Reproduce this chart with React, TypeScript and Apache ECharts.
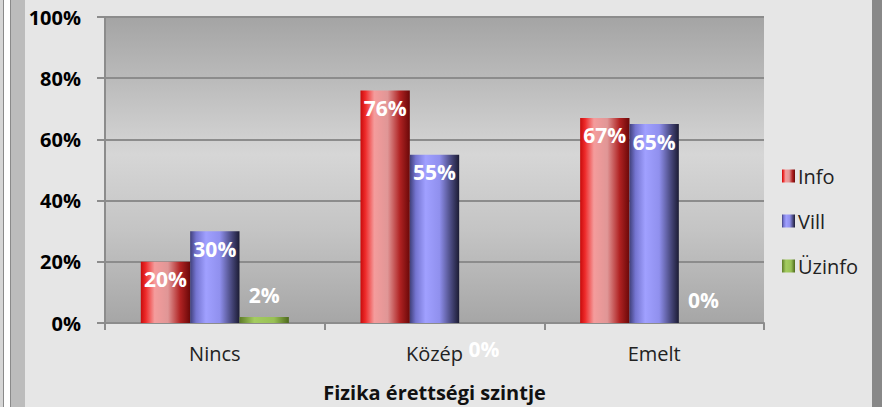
import React, { useEffect, useRef } from "react";
import * as echarts from "echarts";

const categories = ["Nincs", "Közép", "Emelt"];
const seriesNames = ["Info", "Vill", "Üzinfo"];
const infoValues = [20, 76, 67];
const villValues = [30, 55, 65];
const uzinfoValues = [2, 0, 0];
const yTicks = [0, 20, 40, 60, 80, 100];
const xAxisTitle = "Fizika érettségi szintje";

const FONT = "'Open Sans', 'Noto Sans', sans-serif";

function grad(stops: [number, string][]) {
  return new echarts.graphic.LinearGradient(
    0, 0, 1, 0,
    stops.map(([offset, color]) => ({ offset, color }))
  );
}

const redGrad = () =>
  grad([
    [0, "#c80c0c"],
    [0.1, "#ee2a2a"],
    [0.28, "#f49c9c"],
    [0.55, "#e09696"],
    [0.8, "#b02222"],
    [1, "#6a0808"],
  ]);
const blueGrad = () =>
  grad([
    [0, "#40407a"],
    [0.12, "#7474d0"],
    [0.32, "#a0a0ff"],
    [0.6, "#9090ee"],
    [0.85, "#454578"],
    [1, "#1c1c34"],
  ]);
const greenGrad = () =>
  grad([
    [0, "#5e7c28"],
    [0.3, "#a4cc60"],
    [0.7, "#98c055"],
    [1, "#4e6a1c"],
  ]);

const labelBase = {
  show: true,
  color: "#ffffff",
  fontFamily: FONT,
  fontSize: 21,
  fontWeight: "bold" as const,
  formatter: (p: any) => `${p.value}%`,
};

export default function App() {
  const ref = useRef<HTMLDivElement>(null);
  useEffect(() => {
    if (!ref.current) return;
    const chart = echarts.init(ref.current, undefined, { renderer: "svg" });

    const uzinfoLabels = [
      { position: "top", distance: 11 },
      { position: "bottom", distance: 15 },
      { position: "top", distance: 13 },
    ];

    chart.setOption({
      animation: false,
      backgroundColor: "#e6e6e6",
      textStyle: { fontFamily: FONT },
      graphic: [
        { type: "rect", shape: { x: 0, y: 0, width: 3, height: 407 }, style: { fill: "#d6d6d6" }, silent: true },
        { type: "rect", shape: { x: 3, y: 0, width: 1, height: 407 }, style: { fill: "#8a8a8a" }, silent: true },
        { type: "rect", shape: { x: 4, y: 0, width: 6, height: 407 }, style: { fill: "#ffffff" }, silent: true },
        { type: "rect", shape: { x: 10, y: 0, width: 1, height: 407 }, style: { fill: "#8a8a8a" }, silent: true },
        { type: "rect", shape: { x: 11, y: 0, width: 14, height: 407 }, style: { fill: "#bcbcbc" }, silent: true },
        { type: "rect", shape: { x: 872, y: 0, width: 10, height: 407 }, style: { fill: "#888888" }, silent: true },
      ],
      grid: {
        left: 105,
        right: 118,
        top: 17,
        bottom: 84,
        show: true,
        borderWidth: 0,
        backgroundColor: new echarts.graphic.LinearGradient(0, 0, 0, 1, [
          { offset: 0, color: "#a4a4a4" },
          { offset: 0.45, color: "#d6d6d6" },
          { offset: 0.7, color: "#c4c4c4" },
          { offset: 1, color: "#a6a6a6" },
        ]),
      },
      legend: {
        orient: "vertical",
        left: 777,
        top: 161,
        itemWidth: 13,
        itemHeight: 13,
        itemGap: 25,
        icon: "rect",
        data: seriesNames,
        textStyle: { fontFamily: FONT, fontSize: 20, lineHeight: 20, color: "#222222", padding: [0, 0, 0, -2] },
      },
      xAxis: {
        type: "category",
        data: categories,
        name: xAxisTitle,
        nameLocation: "middle",
        nameGap: 59,
        nameTextStyle: { fontFamily: FONT, fontSize: 20, fontWeight: "bold", color: "#111111" },
        axisLine: { lineStyle: { color: "#8c8c8c", width: 2 } },
        axisTick: { show: true, length: 7, lineStyle: { color: "#8c8c8c", width: 2 } },
        axisLabel: { fontFamily: FONT, fontSize: 20, color: "#222222", margin: 20 },
      },
      yAxis: {
        type: "value",
        min: 0,
        max: yTicks[yTicks.length - 1],
        interval: yTicks[1] - yTicks[0],
        axisLine: { show: true, lineStyle: { color: "#8c8c8c", width: 2 } },
        axisTick: { show: true, length: 8, lineStyle: { color: "#8c8c8c", width: 2 } },
        axisLabel: {
          fontFamily: FONT,
          fontSize: 20,
          fontWeight: "bold",
          color: "#000000",
          margin: 24,
          formatter: "{value}%",
        },
        splitLine: { lineStyle: { color: "#8c8c8c", width: 2 } },
      },
      series: [
        {
          name: seriesNames[0],
          type: "bar",
          data: infoValues,
          barGap: "0%",
          barCategoryGap: "32.6%",
          itemStyle: { color: redGrad() },
          label: { ...labelBase, position: "insideTop", distance: 7 },
        },
        {
          name: seriesNames[1],
          type: "bar",
          data: villValues,
          barGap: "0%",
          barCategoryGap: "32.6%",
          itemStyle: { color: blueGrad() },
          label: { ...labelBase, position: "insideTop", distance: 7 },
        },
        {
          name: seriesNames[2],
          type: "bar",
          barGap: "0%",
          barCategoryGap: "32.6%",
          itemStyle: { color: greenGrad() },
          label: { ...labelBase },
          data: uzinfoValues.map((v, i) => ({
            value: v,
            label: { ...labelBase, ...uzinfoLabels[i] },
          })),
        },
      ],
    });
    return () => chart.dispose();
  }, []);

  return (
    <div
      ref={ref}
      style={{ position: "fixed", left: 0, top: 0, width: 882, height: 407 }}
    />
  );
}
